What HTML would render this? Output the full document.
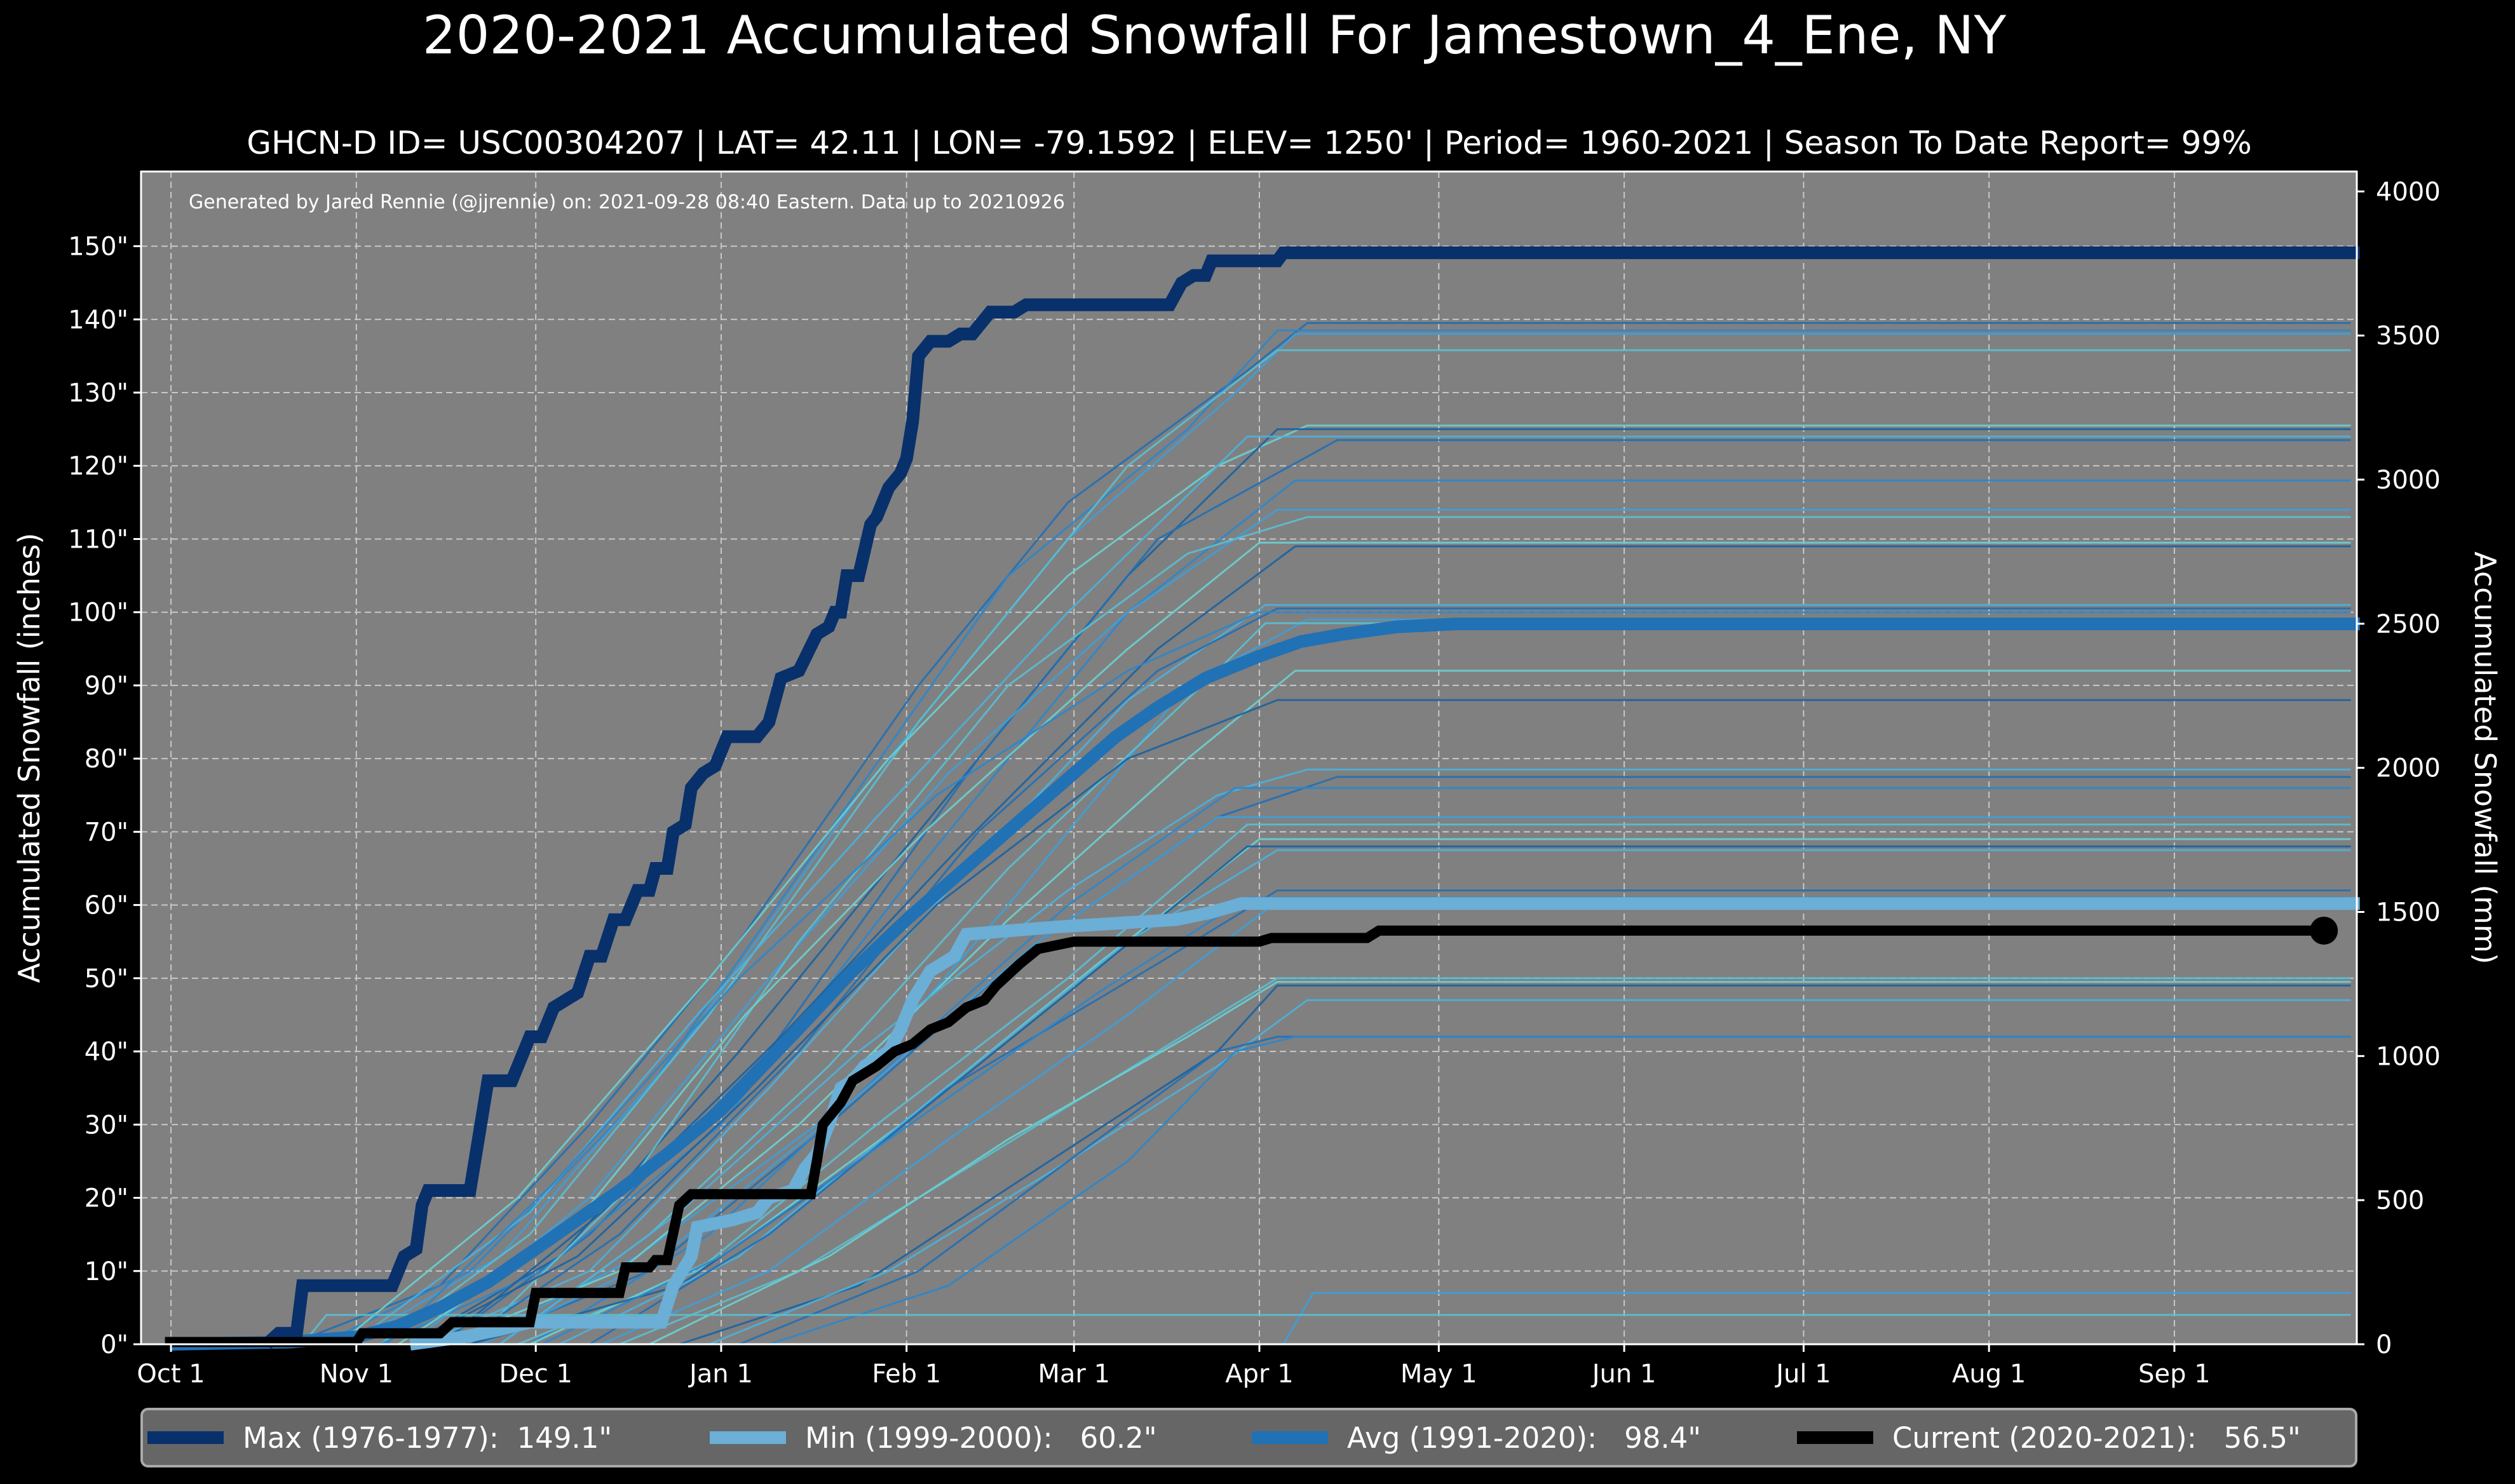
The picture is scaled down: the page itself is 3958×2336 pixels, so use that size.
<!DOCTYPE html>
<html><head><meta charset="utf-8">
<style>
html,body{margin:0;padding:0;background:#000;}
svg{display:block;font-family:"DejaVu Sans","Liberation Sans",sans-serif;}
text{white-space:pre;}
</style></head>
<body>
<svg id="chart" width="3958" height="2336" viewBox="0 0 3958 2336" xmlns="http://www.w3.org/2000/svg">
<rect x="0" y="0" width="3958" height="2336" fill="#000"/>
<text x="1911" y="84" fill="#fff" font-size="83" text-anchor="middle">2020-2021 Accumulated Snowfall For Jamestown_4_Ene, NY</text>
<text x="1966" y="242" fill="#fff" font-size="50" text-anchor="middle">GHCN-D ID= USC00304207 | LAT= 42.11 | LON= -79.1592 | ELEV= 1250' | Period= 1960-2021 | Season To Date Report= 99%</text>
<rect x="222" y="270" width="3487" height="1846" fill="#808080"/>
<g id="grid"></g>
<g id="thin"></g>
<g id="main"></g>
<text x="297" y="328" fill="#fff" font-size="30">Generated by Jared Rennie (@jjrennie) on: 2021-09-28 08:40 Eastern. Data up to 20210926</text>
<rect x="222" y="270" width="3487" height="1846" fill="none" stroke="#fff" stroke-width="3"/>
<g id="axes"></g>
<text transform="translate(62,1193) rotate(-90)" fill="#fff" font-size="46" text-anchor="middle">Accumulated Snowfall (inches)</text>
<text transform="translate(3895,1193) rotate(90)" fill="#fff" font-size="46" text-anchor="middle">Accumulated Snowfall (mm)</text>
<g>
<rect x="223" y="2218" width="3485" height="90" rx="10" fill="#666" stroke="#aaa" stroke-width="4"/>
<g><line x1="232" y1="2263" x2="352" y2="2263" stroke="#08306b" stroke-width="20"/><text x="382" y="2279" fill="#fff" font-size="45" xml:space="preserve">Max (1976-1977):  149.1"</text></g>
<g><line x1="1117" y1="2263" x2="1237" y2="2263" stroke="#6baed6" stroke-width="20"/><text x="1267" y="2279" fill="#fff" font-size="45" xml:space="preserve">Min (1999-2000):   60.2"</text></g>
<g><line x1="1970" y1="2263" x2="2090" y2="2263" stroke="#2171b5" stroke-width="20"/><text x="2120" y="2279" fill="#fff" font-size="45" xml:space="preserve">Avg (1991-2020):   98.4"</text></g>
<g><line x1="2828" y1="2263" x2="2948" y2="2263" stroke="#000" stroke-width="20"/><text x="2978" y="2279" fill="#fff" font-size="45" xml:space="preserve">Current (2020-2021):   56.5"</text></g>
</g>
</svg>
<script>
const monthLabels=["Oct 1","Nov 1","Dec 1","Jan 1","Feb 1","Mar 1","Apr 1","May 1","Jun 1","Jul 1","Aug 1","Sep 1"];
const monthDays=[0,31,61,92,123,151,182,212,243,273,304,335];
const inchTicks=[0,10,20,30,40,50,60,70,80,90,100,110,120,130,140,150];
const mmTicks=[0,500,1000,1500,2000,2500,3000,3500,4000];
const maxSeries=[[16,0],[18,1.5],[21,1.5],[22,8],[37,8],[39,12],[41,13],[42,19],[43,21],[50,21],[53,36],[57,36],[60,42],[62,42],[64,46],[66,47],[68,48],[70,53],[72,53],[74,58],[76,58],[78,62],[80,62],[81,65],[83,65],[84,70],[86,71],[87,76],[89,78],[91,79],[93,83],[98,83],[100,85],[102,91],[105,92],[108,97],[110,98],[111,100],[112,100],[113,105],[115,105],[117,112],[118,113],[120,117],[122,119],[123,121],[124,126],[125,135],[127,137],[130,137],[132,138],[134,138],[137,141],[141,141],[143,142],[167,142],[169,145],[171,146],[173,146],[174,148],[185,148],[186,149.1],[366,149.1]];
const minSeries=[[40,0],[49,1],[55,2],[60,3],[82,3],[84,8],[87,12],[88,16],[94,17],[98,18],[100,20],[104,21],[106,24],[108,26],[110,30],[112,35],[114,36],[116,38],[118,39],[120,40],[122,43],[124,47],[127,51],[131,53],[133,56],[148,57],[168,58],[174,59],[179,60.2],[366,60.2]];
const avgSeries=[[0,0],[20,0.3],[31,1],[38,2.5],[45,5],[53,8.5],[61,13],[68,17],[75,21],[83,26],[92,32],[99,38],[106,44],[114,51],[123,58],[130,63],[137,68],[144,73],[151,78],[158,83],[165,87],[173,91],[182,94],[189,96],[196,97],[205,98],[215,98.4],[366,98.4]];
const curSeries=[[-1,0.3],[31,0.3],[32,1.5],[45,1.5],[47,3],[60,3],[61,7],[75,7],[76,10.5],[80,10.5],[81,11.5],[83,11.5],[85,19],[87,20.5],[107,20.5],[108,25],[109,30],[112,33],[114,36],[118,38],[121,40],[124,41],[127,43],[130,44],[133,46],[136,47],[138,49],[142,52],[145,54],[151,55],[182,55],[184,55.5],[200,55.5],[202,56.5],[360,56.5]];
const curMarkerDay=360;
const thinSeries=[
[[20,0],[45,8],[70,30],[95,55],[125,90],[150,115],[180,133],[190,139.5]],
[[25,0],[50,10],[80,35],[110,70],[140,105],[170,125],[185,138.5]],
[[30,0],[55,12],[85,40],[115,75],[150,110],[178,130],[188,138]],
[[35,0],[60,15],[90,45],[125,85],[160,120],[185,135.8]],
[[28,0],[58,20],[90,50],[120,80],[150,105],[175,120],[190,125.5]],
[[40,0],[65,12],[95,40],[130,75],[160,105],[185,125]],
[[30,0],[60,18],[88,45],[118,72],[150,100],[180,124]],
[[45,0],[70,15],[100,40],[135,80],[165,110],[195,123.5]],
[[35,0],[62,10],[92,30],[125,65],[160,100],[188,118]],
[[40,0],[70,20],[100,50],[130,78],[160,100],[185,114]],
[[50,0],[75,20],[105,55],[140,90],[170,108],[190,113]],
[[38,0],[66,15],[96,45],[126,70],[160,95],[182,109.5]],
[[45,0],[72,18],[102,42],[132,68],[165,95],[188,109]],
[[42,0],[70,10],[100,35],[130,62],[160,88],[183,101]],
[[48,0],[75,15],[105,40],[135,70],[165,92],[185,100.5]],
[[36,0],[64,22],[95,50],[128,75],[160,92],[182,100]],
[[50,0],[78,12],[108,30],[140,60],[170,90],[190,99]],
[[55,0],[80,15],[110,38],[140,65],[175,92],[183,98.5]],
[[45,0],[75,10],[105,30],[140,58],[170,80],[188,92]],
[[40,0],[68,12],[98,35],[128,60],[160,80],[185,88]],
[[55,0],[85,18],[115,40],[150,62],[175,75],[190,78.5]],
[[50,0],[80,10],[110,30],[145,55],[175,72],[195,77.5]],
[[60,0],[90,15],[120,38],[150,60],[178,76]],
[[52,0],[82,12],[112,32],[145,55],[175,72]],
[[58,0],[88,10],[118,30],[150,50],[180,71]],
[[60,0],[92,12],[122,30],[155,52],[182,69]],
[[50,0],[85,8],[115,25],[150,48],[180,68]],
[[65,0],[95,12],[125,32],[160,55],[185,67.5]],
[[70,0],[100,15],[130,35],[165,52],[185,62]],
[[62,0],[92,12],[120,28],[155,48],[180,61]],
[[72,0],[100,10],[130,28],[160,45],[185,60.5]],
[[75,0],[105,10],[135,25],[165,40],[185,50]],
[[80,0],[110,12],[140,28],[170,42],[185,49.5]],
[[85,0],[115,8],[145,24],[175,40],[185,49]],
[[90,0],[120,10],[150,25],[175,38],[190,47]],
[[95,0],[125,10],[155,28],[175,40],[185,42]],
[[100,0],[130,8],[160,25],[178,40],[188,42]],
[[186,0],[191,7]],
[[22,0],[26,4]]
];
const NS="http://www.w3.org/2000/svg";
const X0=222,X1=3709,Y0=2116,Y1=270,D0=-5,D1=365.5,V1=160.2;
function xs(d){return X0+(d-D0)/(D1-D0)*(X1-X0);}
function ys(v){return Y0-v/V1*(Y0-Y1);}
function mk(tag,attrs,parent){const e=document.createElementNS(NS,tag);for(const k in attrs)e.setAttribute(k,attrs[k]);parent.appendChild(e);return e;}
const grid=document.getElementById('grid'),axes=document.getElementById('axes');
monthDays.forEach((d,i)=>{
  const g=mk('line',{x1:xs(d),x2:xs(d),y1:Y1,y2:Y0,stroke:'#c8c8c8','stroke-width':2,'stroke-dasharray':'10,6'},grid);
  
  
  mk('line',{x1:xs(d),x2:xs(d),y1:Y0,y2:Y0+12,stroke:'#fff','stroke-width':3},axes);
  const t=mk('text',{x:xs(d),y:Y0+60,fill:'#fff','font-size':40,'text-anchor':'middle'},axes);
  t.textContent=monthLabels[i];
  
  
});
inchTicks.forEach(v=>{
  if(v>0){const g=mk('line',{x1:X0,x2:X1,y1:ys(v),y2:ys(v),stroke:'#c8c8c8','stroke-width':2,'stroke-dasharray':'10,6'},grid);
  
  }
  mk('line',{x1:X0-12,x2:X0,y1:ys(v),y2:ys(v),stroke:'#fff','stroke-width':3},axes);
  const t=mk('text',{x:X0-20,y:ys(v)+14,fill:'#fff','font-size':40,'text-anchor':'end'},axes);
  t.textContent=v+'"';
  
  
});
mmTicks.forEach(m=>{
  const y=ys(m/25.4);
  mk('line',{x1:X1,x2:X1+12,y1:y,y2:y,stroke:'#fff','stroke-width':3},axes);
  const t=mk('text',{x:X1+30,y:y+14,fill:'#fff','font-size':40},axes);
  t.textContent=m;
  
  
});
function stepPath(pts,end){let d='';pts.forEach((p,i)=>{d+=(i?'L':'M')+xs(p[0]).toFixed(1)+','+ys(p[1]).toFixed(1);});if(end!==undefined){const l=pts[pts.length-1];d+='L'+xs(end).toFixed(1)+','+ys(l[1]).toFixed(1);}return d;}
const palette=['#1f6fb5','#2a86cc','#3d9fd9','#59bfd3','#6ccfcf','#1a62a0','#4bb0dc'];
const thin=document.getElementById('thin');
thinSeries.forEach((s,i)=>{
  const p=mk('path',{d:stepPath(s,364.5),fill:'none',stroke:palette[i%palette.length],'stroke-width':3,opacity:0.9},thin);
  
  
});
const main=document.getElementById('main');
const a=mk('path',{d:stepPath(avgSeries),fill:'none',stroke:'#2171b5','stroke-width':20},main);


const mn=mk('path',{d:stepPath(minSeries),fill:'none',stroke:'#6baed6','stroke-width':20},main);


const mx=mk('path',{d:stepPath(maxSeries),fill:'none',stroke:'#08306b','stroke-width':20},main);


const cu=mk('path',{d:stepPath(curSeries),fill:'none',stroke:'#000','stroke-width':16},main);


const last=curSeries[curSeries.length-1][1];
const mkr=mk('circle',{cx:xs(curMarkerDay),cy:ys(last),r:22,fill:'#000'},main);


</script>
</body></html>
